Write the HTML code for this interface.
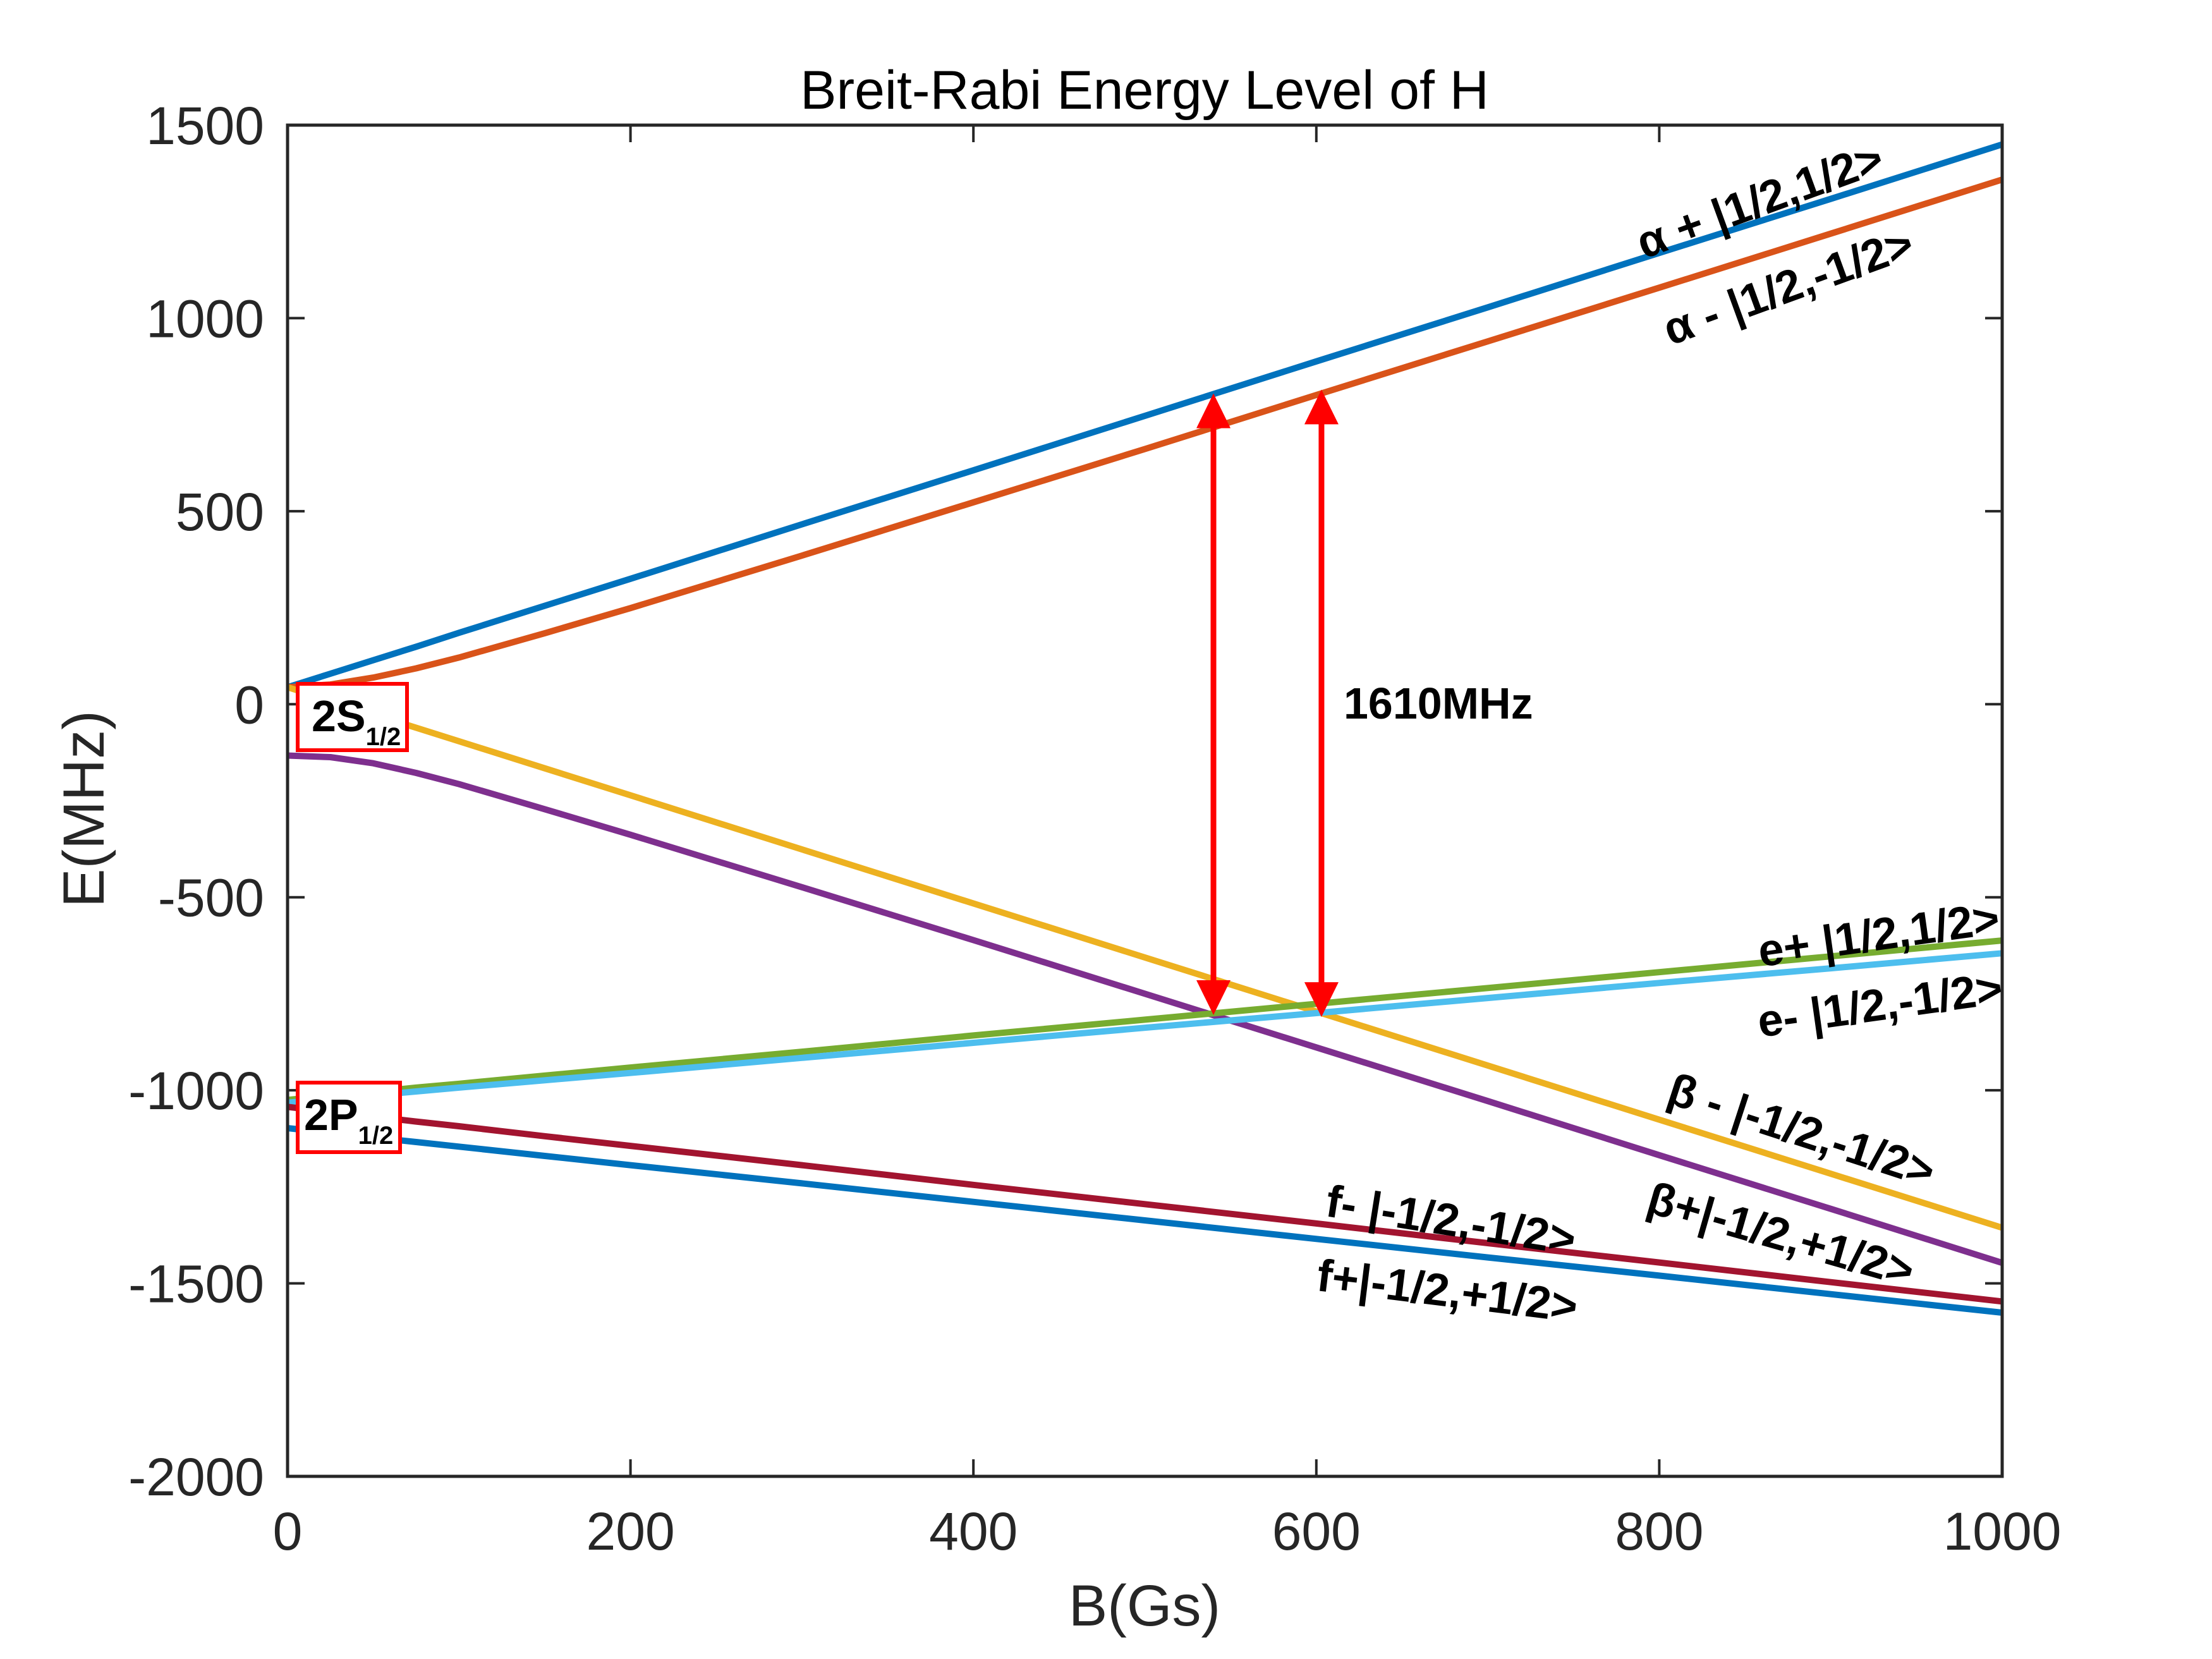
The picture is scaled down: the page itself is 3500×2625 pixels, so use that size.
<!DOCTYPE html>
<html><head><meta charset="utf-8"><style>
html,body{margin:0;padding:0;background:#fff;}
svg{display:block;}
</style></head><body>
<svg id="chart" width="3500" height="2625" viewBox="0 0 3500 2625" xmlns="http://www.w3.org/2000/svg" font-family="Liberation Sans, Arial, sans-serif">
<rect width="3500" height="2625" fill="#fff"/>
<text x="1811" y="172" font-size="86" text-anchor="middle" fill="#000">Breit-Rabi Energy Level of H</text>
<g id="series"></g>
<g id="axes"></g>
<text x="1811" y="2572" font-size="92" text-anchor="middle" fill="#262626">B(Gs)</text>
<text x="0" y="0" transform="translate(164,1280) rotate(-90)" font-size="92" text-anchor="middle" fill="#262626">E(MHz)</text>
<g id="anno" font-weight="bold" font-size="72" fill="#000"></g>
</svg>
<script>
const B = [0,25,50,75,100,150,200,300,400,500,600,700,800,900,1000];
const alphaPlus = [44,79,114,149,185,255,325,466,606,747,888,1028,1169,1309,1450];
const alphaMinus = [44,51,69,93,121,184,249,385,523,661,801,940,1079,1219,1359];
const betaMinus = [44,9,-26,-61,-96,-166,-236,-376,-516,-656,-796,-936,-1076,-1216,-1356];
const betaPlus = [-133,-137,-153,-178,-207,-272,-338,-474,-611,-750,-889,-1028,-1168,-1307,-1447];
const ePlus = [-1025,-1014,-1004,-993,-983,-962,-941,-900,-858,-817,-776,-735,-694,-653,-612];
const eMinus = [-1032,-1022,-1013,-1003,-993,-974,-955,-916,-877,-838,-800,-761,-722,-684,-645];
const fMinus = [-1043,-1056,-1068,-1081,-1093,-1119,-1144,-1194,-1245,-1295,-1345,-1396,-1446,-1497,-1547];
const fPlus = [-1098,-1110,-1122,-1134,-1146,-1170,-1194,-1241,-1289,-1337,-1385,-1433,-1480,-1528,-1576];
const xTicks = [0,200,400,600,800,1000];
const yTicks = [-2000,-1500,-1000,-500,0,500,1000,1500];
const arrowB = [540,603];
const arrowLow = [-805,-810];
const arrowHigh = [805,815];

const NS='http://www.w3.org/2000/svg';
const L=455,R=3168,T=198,Bt=2336;
const xS=v=>L+(v-0)/(1000-0)*(R-L);
const yS=v=>Bt-(v-(-2000))/(1500-(-2000))*(Bt-T);
const sg=document.getElementById('series');
const ag=document.getElementById('axes');
const an=document.getElementById('anno');
function mk(tag,attrs,parent){const e=document.createElementNS(NS,tag);for(const k in attrs)e.setAttribute(k,attrs[k]);parent.appendChild(e);return e;}

const series=[
 [alphaPlus,'#0072BD','line-alpha-plus'],
 [alphaMinus,'#D95319','line-alpha-minus'],
 [betaMinus,'#EDB120','line-beta-minus'],
 [betaPlus,'#7E2F8E','line-beta-plus'],
 [ePlus,'#77AC30','line-e-plus'],
 [eMinus,'#4DBEEE','line-e-minus'],
 [fMinus,'#A2142F','line-f-minus'],
 [fPlus,'#0072BD','line-f-plus']
];
series.forEach(s=>{
  const d=s[0].map((v,i)=>(i?'L':'M')+xS(B[i]).toFixed(1)+','+yS(v).toFixed(1)).join(' ');
  const p=mk('path',{d:d,fill:'none',stroke:s[1],'stroke-width':10,'stroke-linejoin':'round'},sg);
  
  
});

arrowB.forEach((b,i)=>{
  const x=xS(b),y1=yS(arrowHigh[i]),y2=yS(arrowLow[i]);
  const g=mk('g',{},sg);
  
  
  mk('line',{x1:x,y1:y1+50,x2:x,y2:y2-50,stroke:'#FF0000','stroke-width':9},g);
  mk('polygon',{points:`${x},${y1} ${x-27},${y1+55} ${x+27},${y1+55}`,fill:'#FF0000'},g);
  mk('polygon',{points:`${x},${y2} ${x-27},${y2-55} ${x+27},${y2-55}`,fill:'#FF0000'},g);
});

const box=mk('rect',{x:L,y:T,width:R-L,height:Bt-T,fill:'none',stroke:'#262626','stroke-width':5},ag);


xTicks.forEach(t=>{
  const x=xS(t);
  mk('line',{x1:x,y1:Bt,x2:x,y2:Bt-27,stroke:'#262626','stroke-width':4},ag);
  mk('line',{x1:x,y1:T,x2:x,y2:T+27,stroke:'#262626','stroke-width':4},ag);
  const tx=mk('text',{x:x,y:2452,'font-size':84,'text-anchor':'middle',fill:'#262626'},ag);
  tx.textContent=t;
  
  
});
yTicks.forEach(t=>{
  const y=yS(t);
  mk('line',{x1:L,y1:y,x2:L+27,y2:y,stroke:'#262626','stroke-width':4},ag);
  mk('line',{x1:R,y1:y,x2:R-27,y2:y,stroke:'#262626','stroke-width':4},ag);
  const tx=mk('text',{x:418,y:y+30,'font-size':84,'text-anchor':'end',fill:'#262626'},ag);
  tx.textContent=t;
  
  
});

const labels=[
 ['α + |1/2,1/2>',2793,340,-20,'label-alpha-plus'],
 ['α - |1/2,-1/2>',2838,476,-20,'label-alpha-minus'],
 ['e+ |1/2,1/2>',2976,1503,-8,'label-e-plus'],
 ['e- |1/2,-1/2>',2978,1614,-8,'label-e-minus'],
 ['β - |-1/2,-1/2>',2843,1812,18,'label-beta-minus'],
 ['β+|-1/2,+1/2>',2811,1977,16,'label-beta-plus'],
 ['f- |-1/2,-1/2>',2292,1955,9,'label-f-minus'],
 ['f+|-1/2,+1/2>',2287,2067,7,'label-f-plus']
];
labels.forEach(l=>{
  const t=mk('text',{x:0,y:0,'text-anchor':'middle',transform:`translate(${l[1]},${l[2]}) rotate(${l[3]})`},an);
  t.textContent=l[0];
  
  
});
const freq=mk('text',{x:2126,y:1137,'font-size':70},an);
freq.textContent='1610MHz';



function levelBox(x,y,w,h,main,name){
  const g=mk('g',{},an);
  
  
  mk('rect',{x:x,y:y,width:w,height:h,fill:'#fff',stroke:'#FF0000','stroke-width':6},g);
  const t=mk('text',{x:x+(name==='box-2s'?22:10),y:y+75,'font-size':70,'font-weight':'bold'},g);
  t.textContent=main;
  const s=mk('tspan',{'font-size':40,dy:22},t);
  s.textContent='1/2';
}
levelBox(471,1082,173,105,'2S','box-2s');
levelBox(471,1713,162,110,'2P','box-2p');
</script>
</body></html>
